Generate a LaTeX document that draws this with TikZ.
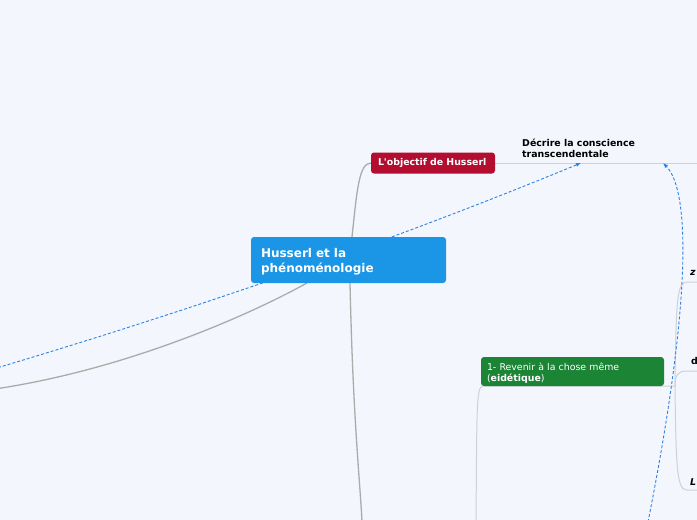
\documentclass[tikz,border=0pt]{standalone}
\usepackage{fontspec}
\setmainfont{DejaVu Sans}[Ligatures=TeXOff]
\usetikzlibrary{arrows.meta,calc}
\definecolor{bgc}{HTML}{F3F6FD}
\definecolor{rootc}{HTML}{1B96E6}
\definecolor{redc}{HTML}{B30D2F}
\definecolor{greenc}{HTML}{1B8435}
\definecolor{dashc}{HTML}{2A82E6}
\definecolor{mainl}{HTML}{ABABAB}
\definecolor{minorl}{HTML}{CDD1DA}
\begin{document}
\begin{tikzpicture}[x=1pt,y=-1pt,
  box/.style={rounded corners=3pt, text=white, align=left, inner ysep=0pt},
  rootbox/.style={box, fill=rootc, font=\bfseries\fontsize{12}{15}\selectfont, text width=175pt, minimum height=46pt, inner xsep=10pt},
  redbox/.style={box, fill=redc, font=\bfseries\fontsize{9.4}{11}\selectfont, text width=110pt, minimum height=21pt, inner xsep=7pt},
  greenbox/.style={box, fill=greenc, font=\fontsize{9.4}{11}\selectfont, text width=171pt, minimum height=29pt, inner xsep=6pt},
  plain/.style={inner sep=0pt, align=left, text=black, font=\bfseries\fontsize{9.4}{11}\selectfont},
  mainline/.style={draw=mainl, line width=1.3pt},
  minorline/.style={draw=minorl, line width=1pt},
  linkline/.style={draw=dashc, line width=0.9pt, dash pattern=on 3pt off 2pt, -{Latex[length=5pt,width=4pt]}}
]
\fill[bgc] (0,0) rectangle (697,520);
\useasboundingbox (0,0) rectangle (697,520);

% coordinates
\coordinate (leftA) at (-2,388.5);
\coordinate (leftB) at (-2,367.6);
\coordinate (bottomA) at (362,522);
\coordinate (bottomB) at (476,522);
\coordinate (bottomC) at (648,522);
\coordinate (edge1) at (697,163);
\coordinate (tgt1) at (581,163);
\coordinate (tgt2) at (663,163);
\coordinate (br) at (675,386);
\coordinate (zl) at (687,282);
\coordinate (ze) at (697,282);
\coordinate (dl) at (687,371);
\coordinate (de) at (697,371);
\coordinate (ll) at (687,490);
\coordinate (le) at (697,490);

% connectors (under nodes)
\draw[mainline] (307,283) .. controls (240,320) and (120,370) .. (leftA);
\draw[mainline] (350,283) .. controls (353,420) and (360,480) .. (bottomA);
\draw[mainline] (352,237) .. controls (357,190) and (359,163) .. (371,163);
\draw[minorline] (495,163) -- (edge1);
\draw[minorline] (bottomB) .. controls (477,410) and (476,386) .. (483,386) -- (br);
\draw[minorline] (br) .. controls (676,300) and (677,282) .. (zl) -- (ze);
\draw[minorline] (br) .. controls (675,376) and (677,371) .. (dl) -- (de);
\draw[minorline] (br) .. controls (676,470) and (677,490) .. (ll) -- (le);

% links (drawn under the nodes)
\draw[linkline] (leftB) .. controls (194,309) and (387,243) .. (tgt1);
\draw[linkline] (bottomC) .. controls (692,300) and (690,190) .. (tgt2);

% nodes
\node[rootbox] (root) at (348.5,260) {\rule{0pt}{12pt}Husserl et la\\phénoménologie};
\node[redbox] (obj) at (433,163) {L'objectif de Husserl};
\node[greenbox] (eid) at (572.5,371.5) {\rule{0pt}{10.5pt}1- Revenir à la chose même\\(\textbf{eidétique})};
\node[plain, anchor=north west] (decr) at (522,139) {Décrire la conscience\\transcendentale};
\node[plain, anchor=base west, font=\bfseries\itshape\fontsize{9.4}{11}\selectfont] (zt) at (690,275.5) {z};
\node[plain, anchor=base west] (dt) at (691,364.5) {d};
\node[plain, anchor=base west, font=\bfseries\itshape\fontsize{9.4}{11}\selectfont] (lt) at (690,485.5) {L};
\end{tikzpicture}
\end{document}
